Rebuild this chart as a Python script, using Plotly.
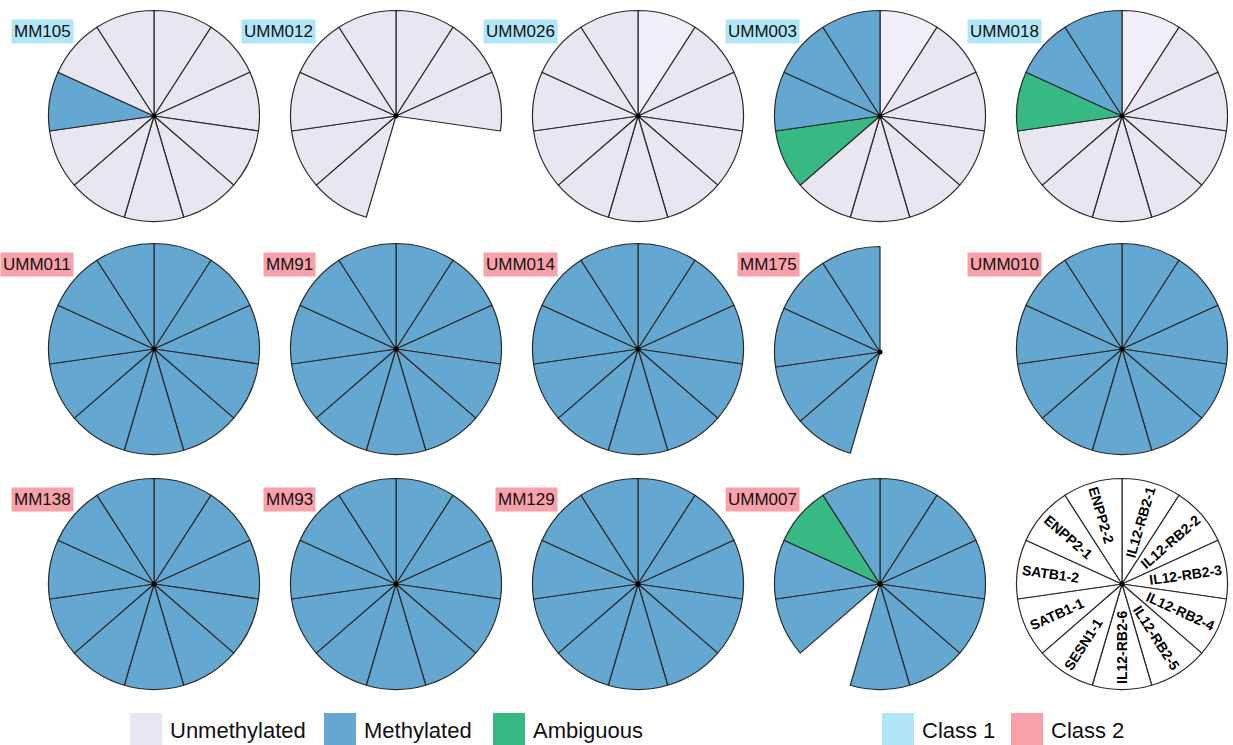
import math
import plotly.graph_objects as go

W, H = 1233, 745

# ---------------- data ----------------
genes = ["IL12-RB2-1", "IL12-RB2-2", "IL12-RB2-3", "IL12-RB2-4", "IL12-RB2-5",
         "IL12-RB2-6", "SESN1-1", "SATB1-1", "SATB1-2", "ENPP2-1", "ENPP2-2"]

samples = ["MM105", "UMM012", "UMM026", "UMM003", "UMM018",
           "UMM011", "MM91", "UMM014", "MM175", "UMM010",
           "MM138", "MM93", "MM129", "UMM007"]

sample_class = [1, 1, 1, 1, 1,
                2, 2, 2, 2, 2,
                2, 2, 2, 2]

# U = unmethylated, L = unmethylated (light shade), M = methylated,
# A = ambiguous, N = no data ; one code per gene, clockwise from 12 o'clock
status_codes = ["UUUUUUUUMUU",
                "UUUNNNUUUUU",
                "LUUUUUUUUUU",
                "LUUUUUUAMMM",
                "LUUUUUUUAMM",
                "MMMMMMMMMMM",
                "MMMMMMMMMMM",
                "MMMMMMMMMMM",
                "NNNNNNMMMMM",
                "MMMMMMMMMMM",
                "MMMMMMMMMMM",
                "MMMMMMMMMMM",
                "MMMMMMMMMMM",
                "MMMMMMNMMAM"]

status_names = ["Unmethylated", "Methylated", "Ambiguous"]
class_names = ["Class 1", "Class 2"]

# ---------------- styles ----------------
status_color = {"U": "#e8e6f0", "L": "#f0eef7", "M": "#64a8d2",
                "A": "#38b883", "N": "rgba(0,0,0,0)"}
legend_status_colors = ["#e8e6f0", "#64a8d2", "#38b883"]
class_color = {1: "#b1e6f9", 2: "#f9a1ab"}
line_col = "#2a2a2a"
FONT = "Liberation Sans, Arial"

col_x = [154, 396, 638, 880, 1122]
row_y = [116, 349, 584]
R = 105.5
y_nudge = {"MM175": 3}

def fx(px):
    return px / W

def fy(py):
    return 1 - py / H

fig = go.Figure()
shapes = []
annotations = []

positions = [(c, r) for r in range(3) for c in range(5)]

for i, name in enumerate(samples):
    c, r = positions[i]
    cx = col_x[c]
    cy = row_y[r] + y_nudge.get(name, 0)
    codes = status_codes[i]
    colors = [status_color[k] for k in codes]
    lw = [0 if k == "N" else 1.2 for k in codes]
    fig.add_trace(go.Pie(
        labels=genes, values=[1] * len(genes),
        sort=False, direction="clockwise", rotation=0,
        marker=dict(colors=colors, line=dict(color=line_col, width=lw)),
        textinfo="none", hoverinfo="skip", showlegend=False,
        domain=dict(x=[fx(cx - R), fx(cx + R)], y=[fy(cy + R), fy(cy - R)]),
    ))
    shapes.append(dict(type="circle", xref="paper", yref="paper",
                       x0=fx(cx - 2.5), x1=fx(cx + 2.5),
                       y0=fy(cy + 2.5), y1=fy(cy - 2.5),
                       fillcolor="black", line=dict(width=0)))
    annotations.append(dict(
        text=name, x=fx(cx - 80), y=fy(row_y[r] - 85),
        xref="paper", yref="paper", xanchor="right", yanchor="middle",
        showarrow=False, bgcolor=class_color[sample_class[i]], borderpad=2,
        font=dict(family=FONT, size=17, color="#111"),
    ))

# key pie
kcx, kcy = col_x[4], row_y[2]
fig.add_trace(go.Pie(
    labels=genes, values=[1] * len(genes),
    sort=False, direction="clockwise", rotation=0,
    marker=dict(colors=["white"] * len(genes), line=dict(color=line_col, width=1.2)),
    textinfo="none", hoverinfo="skip", showlegend=False,
    domain=dict(x=[fx(kcx - R), fx(kcx + R)], y=[fy(kcy + R), fy(kcy - R)]),
))
shapes.append(dict(type="circle", xref="paper", yref="paper",
                   x0=fx(kcx - 2.5), x1=fx(kcx + 2.5),
                   y0=fy(kcy + 2.5), y1=fy(kcy - 2.5),
                   fillcolor="black", line=dict(width=0)))

# radial gene labels in the key pie
bold_w = {"I": .278, "L": .611, "R": .722, "B": .722, "S": .667, "E": .667,
          "N": .722, "A": .722, "T": .611, "P": .667, "-": .333}
KEY_FS = 14
n = len(genes)
for j, g in enumerate(genes):
    theta = (j + 0.5) * 360.0 / n
    tw = sum(bold_w.get(ch, .556) for ch in g) * KEY_FS
    dist = R - 5 - tw / 2
    px = kcx + dist * math.sin(math.radians(theta))
    py = kcy - dist * math.cos(math.radians(theta))
    ang = theta - 90 if theta < 180 else theta - 270
    annotations.append(dict(
        text=g, x=fx(px), y=fy(py), xref="paper", yref="paper",
        xanchor="center", yanchor="middle", showarrow=False, textangle=ang,
        font=dict(family=FONT, size=KEY_FS, color="black", weight="bold"),
    ))

# bottom legend
legend_items = [(status_names[0], legend_status_colors[0], 130),
                (status_names[1], legend_status_colors[1], 324),
                (status_names[2], legend_status_colors[2], 493),
                (class_names[0], class_color[1], 882),
                (class_names[1], class_color[2], 1011)]
for label, color, x0 in legend_items:
    shapes.append(dict(type="rect", xref="paper", yref="paper",
                       x0=fx(x0), x1=fx(x0 + 32), y0=fy(747), y1=fy(713),
                       fillcolor=color, line=dict(width=0)))
    annotations.append(dict(
        text=label, x=fx(x0 + 38), y=fy(730), xref="paper", yref="paper",
        xanchor="left", yanchor="middle", showarrow=False,
        font=dict(family=FONT, size=22, color="#111"),
    ))

fig.update_layout(
    width=W, height=H, margin=dict(l=0, r=0, t=0, b=0),
    paper_bgcolor="white", plot_bgcolor="white",
    shapes=shapes, annotations=annotations,
)

fig.write_html("out.html")
